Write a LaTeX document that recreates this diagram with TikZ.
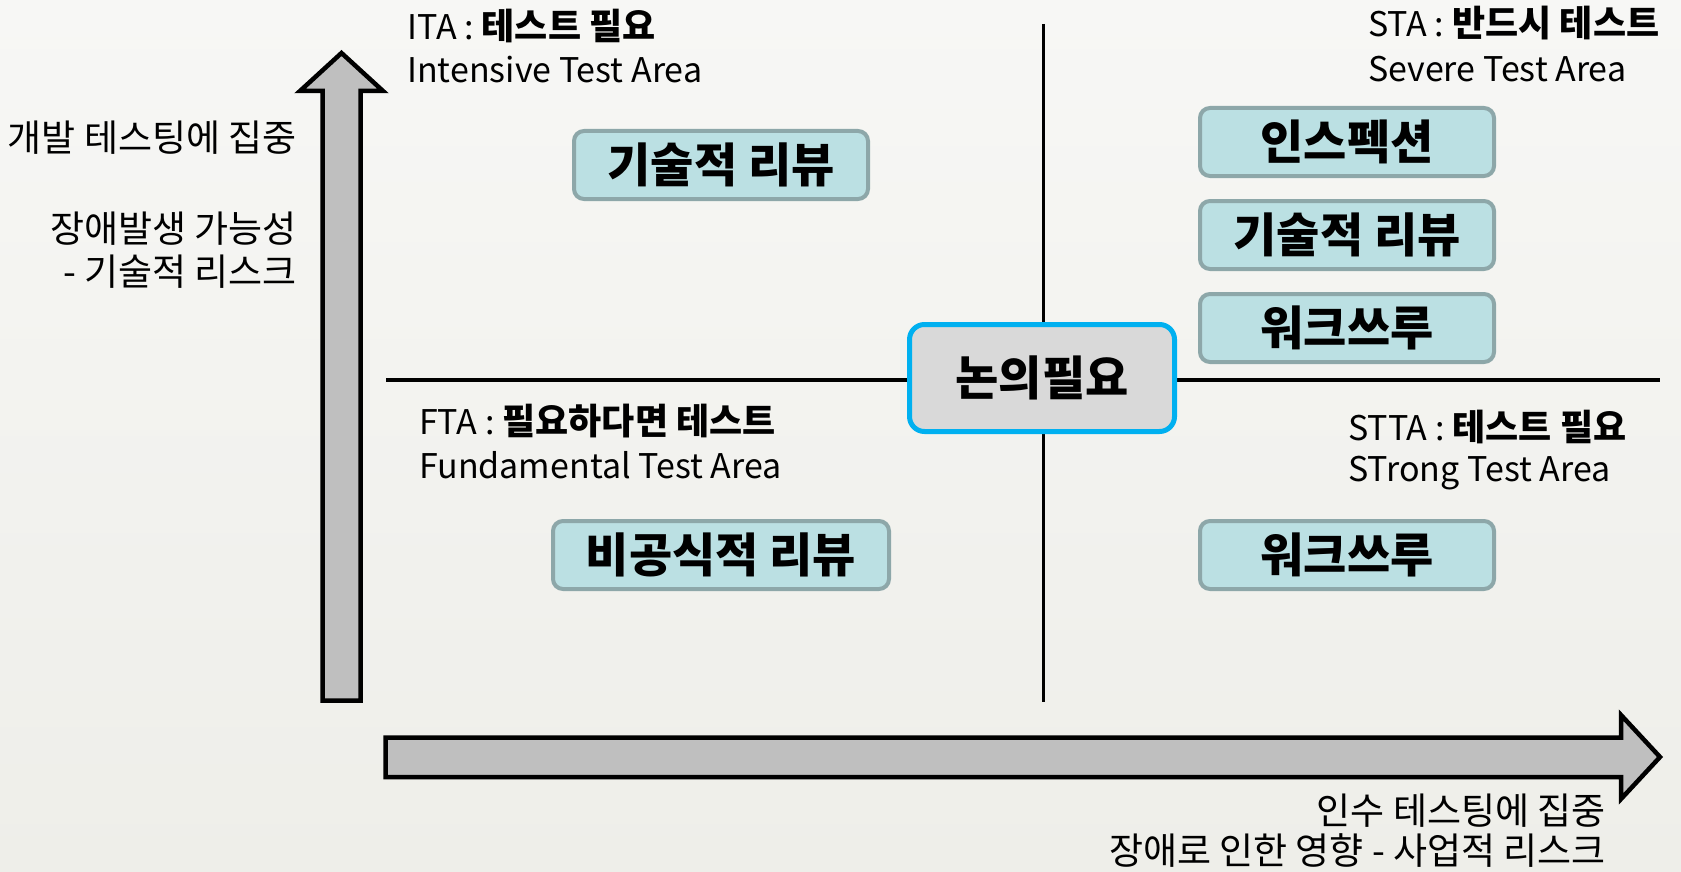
\documentclass[tikz,border=0pt]{standalone}
\usepackage{fontspec}
\setmainfont{Noto Sans CJK KR}
\usepackage{tikz}
\usepackage{color}
\usetikzlibrary{shapes.misc}

\definecolor{bgtop}{RGB}{247,247,245}
\definecolor{bgbot}{RGB}{238,238,233}
\definecolor{arrowfill}{RGB}{191,191,191}
\definecolor{boxfill}{RGB}{187,224,227}
\definecolor{boxline}{RGB}{141,167,169}
\definecolor{keyfill}{RGB}{217,217,217}
\definecolor{keyline}{RGB}{0,176,240}

\newcommand{\areatag}[1]{{\fontsize{34}{40}\selectfont #1}}

\begin{document}
\begin{tikzpicture}[x=1pt,y=1pt,yscale=-1,xscale=1,
	revbox/.style={draw=boxline,fill=boxfill,line width=4pt,rounded corners=10pt,minimum width=294pt,minimum height=68pt,inner sep=0pt,font=\bfseries\fontsize{47}{50}\selectfont},
	keybox/.style={draw=keyline,fill=keyfill,line width=5pt,rounded corners=15pt,minimum width=265pt,minimum height=107pt,inner sep=0pt,font=\bfseries\fontsize{47}{50}\selectfont},
	areatext/.style={anchor=base west,inner sep=0pt,font=\fontsize{36}{43}\selectfont},
	areaname/.style={anchor=base west,inner sep=0pt,font=\fontsize{34}{43}\selectfont},
	sidetext/.style={anchor=base east,inner sep=0pt,font=\fontsize{37}{42}\selectfont}]
				%set diagram size 1681 x 872
				\shade [top color=bgtop,bottom color=bgbot] (0,0) rectangle (1681,872);
				\useasboundingbox (0,0) rectangle (1681,872);
				
				%Shape: Up Arrow
				\draw [fill=arrowfill,line width=4.5pt,miter limit=10] (322.5,700.5) -- (322.5,91) -- (300,91) -- (341.5,53) -- (383,91) -- (360.5,91) -- (360.5,700.5) -- cycle ;
				%Shape: Right Arrow
				\draw [fill=arrowfill,line width=4.5pt,miter limit=10] (385.5,737.5) -- (1621,737.5) -- (1621,715) -- (1660,757) -- (1621,799) -- (1621,777) -- (385.5,777) -- cycle ;
				
				%Straight Lines
				\draw [line width=3.5pt] (386,380) -- (1660,380) ;
				%Straight Lines
				\draw [line width=3.5pt] (1043.5,24) -- (1043.5,702) ;
				
				%Shape: Rounded Rect
				\draw (1042,378) node (keyNeed) [keybox] {논의필요};
				\draw (721,165) node (itaRev) [revbox] {기술적 리뷰};
				\draw (1347,142) node (staInsp) [revbox] {인스펙션};
				\draw (1347,235) node (staRev) [revbox] {기술적 리뷰};
				\draw (1347,328) node (staWalk) [revbox] {워크쓰루};
				\draw (1347,555) node (sttaWalk) [revbox] {워크쓰루};
				\draw (721,555) node (ftaRev) [revbox,minimum width=336pt] {비공식적 리뷰};
				
				% Text Node
				\draw (407,40) node (itaHead) [areatext] {\areatag{ITA :} \textbf{테스트 필요}};
				\draw (407,83) node (itaName) [areaname] {Intensive Test Area};
				% Text Node
				\draw (1368,37) node (staHead) [areatext] {\areatag{STA :} \textbf{반드시 테스트}};
				\draw (1368,82) node (staName) [areaname] {Severe Test Area};
				% Text Node
				\draw (419,434) node (ftaHead) [areatext] {\areatag{FTA :} \textbf{필요하다면 테스트}};
				\draw (419,478) node (ftaName) [areaname] {Fundamental Test Area};
				% Text Node
				\draw (1348,440) node (sttaHead) [areatext] {\areatag{STTA :} \textbf{테스트 필요}};
				\draw (1348,481) node (sttaName) [areaname] {STrong Test Area};
				
				% Text Node
				\draw (297,152) node (devFocus) [sidetext] {개발 테스팅에 집중};
				\draw (297,242) node (devRisk) [sidetext] {장애발생 가능성};
				\draw (297,285) node (devRiskB) [sidetext] {- 기술적 리스크};
				% Text Node
				\draw (1606,824) node (accFocus) [sidetext] {인수 테스팅에 집중};
				\draw (1606,864) node (accRisk) [sidetext] {장애로 인한 영향 - 사업적 리스크};
				
\end{tikzpicture}
\end{document}
